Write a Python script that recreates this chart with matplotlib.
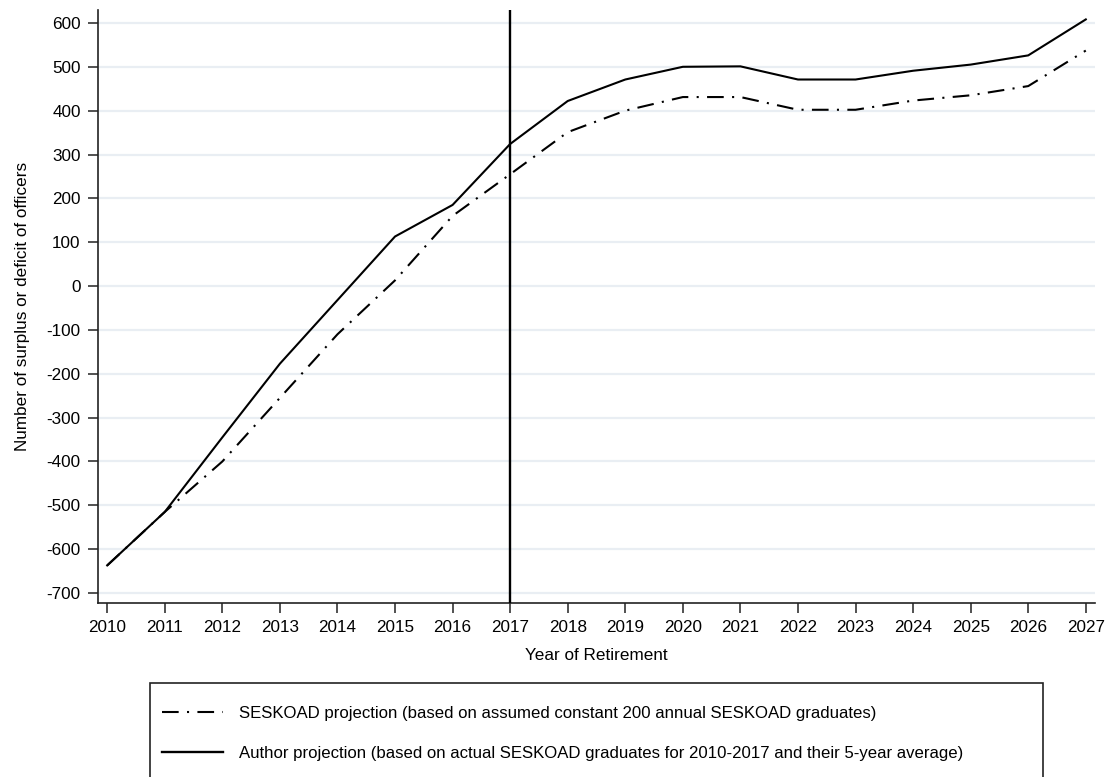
import numpy as np
import matplotlib
matplotlib.use("Agg")
import matplotlib.pyplot as plt
from matplotlib.lines import Line2D
from matplotlib.patches import Rectangle

plt.rcParams['font.family'] = ['Liberation Sans', 'DejaVu Sans']
plt.rcParams['axes.unicode_minus'] = False

# Projected surplus/deficit of officers by year of retirement
years = np.arange(2010, 2028)
seskoad = [-637, -515, -400, -255, -110, 13, 160, 255, 351, 400, 431, 431,
           402, 402, 423, 435, 456, 537]
author = [-637, -515, -345, -177, -32, 113, 185, 324, 422, 471, 500, 501,
          471, 471, 491, 505, 526, 608]
cutoff_year = 2017
yticks = np.arange(-700, 601, 100)

seskoad_label = "SESKOAD projection (based on assumed constant 200 annual SESKOAD graduates)"
author_label = "Author projection (based on actual SESKOAD graduates for 2010-2017 and their 5-year average)"
dashdot = (0, (8, 4, 1, 4))
fs = 12.3


def main():
    fig = plt.figure(figsize=(11.07, 7.77), dpi=100)
    ax = fig.add_axes([98 / 1107, 1 - 603 / 777, 997 / 1107, 593 / 777])

    for y in yticks:
        ax.axhline(y, color='#e9eef3', linewidth=1.6, zorder=0)

    ax.plot(years, seskoad, color='black', linewidth=1.5, linestyle=dashdot, zorder=3)
    ax.plot(years, author, color='black', linewidth=1.5, zorder=4)
    ax.axvline(cutoff_year, color='black', linewidth=1.7, zorder=5)

    ax.set_xlim(2009.84, 2027.16)
    ax.set_ylim(-722.7, 629.5)
    ax.set_xticks(years)
    ax.set_yticks(yticks)
    ax.tick_params(axis='both', direction='out', length=7.5, width=1.1,
                   labelsize=fs, color='#222222', pad=5)
    for side in ['top', 'right']:
        ax.spines[side].set_visible(False)
    for side in ['left', 'bottom']:
        ax.spines[side].set_linewidth(1.2)
        ax.spines[side].set_color('#222222')

    ax.set_xlabel('Year of Retirement', fontsize=fs, labelpad=9)
    ax.set_ylabel('Number of surplus or deficit of officers', fontsize=fs, labelpad=12)

    # legend box at the bottom, running off the lower edge
    fig.patches.append(Rectangle((150 / 1107, -0.05), 893 / 1107, 0.05 + (777 - 683) / 777,
                                 transform=fig.transFigure, fill=False,
                                 edgecolor='#222222', linewidth=1.2))
    handles = [Line2D([], [], color='black', linewidth=1.5, linestyle=dashdot),
               Line2D([], [], color='black', linewidth=1.7)]
    fig.legend(handles, [seskoad_label, author_label], loc='upper left',
               bbox_to_anchor=(162 / 1107, 1 - 706 / 777), frameon=False,
               fontsize=12.1, handlelength=3.6, handletextpad=1.0,
               labelspacing=1.5, borderpad=0, borderaxespad=0)

    fig.savefig('out.png', dpi=100)


if __name__ == "__main__":
    main()
